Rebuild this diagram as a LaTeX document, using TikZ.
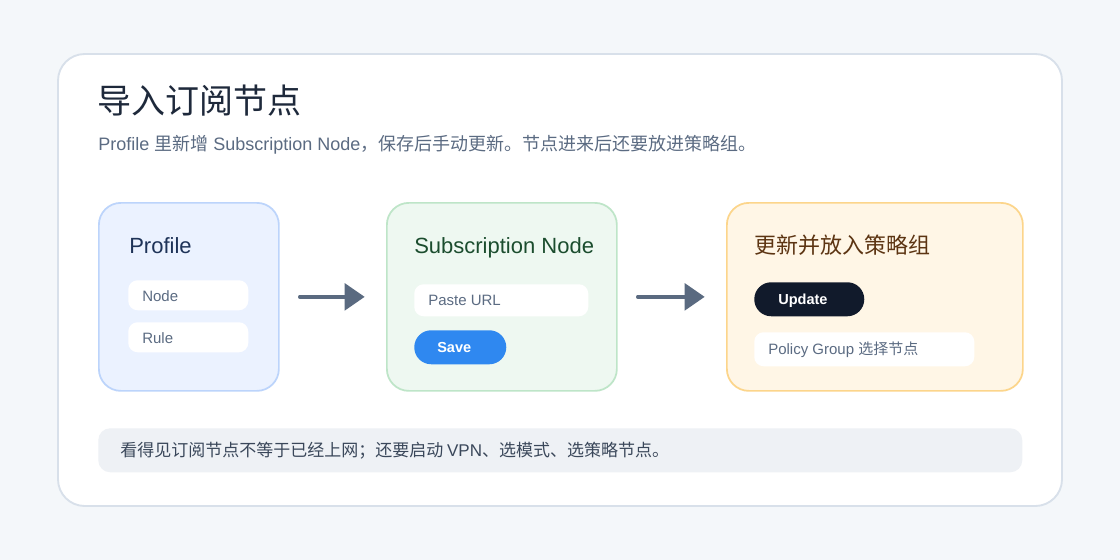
\documentclass[tikz,border=0pt]{standalone}
\usepackage{fontspec}
\setmainfont{Liberation Sans}
\newfontfamily\cjk{Noto Sans CJK SC}
\usetikzlibrary{arrows.meta,positioning}
\definecolor{pagebg}{HTML}{F4F7FA}
\definecolor{frame}{HTML}{D8E0EA}
\definecolor{headc}{HTML}{1E293B}
\definecolor{subc}{HTML}{5B6B82}
\definecolor{arrc}{HTML}{5A6A80}
\definecolor{bluef}{HTML}{EBF2FF}
\definecolor{blued}{HTML}{BCD4FB}
\definecolor{bluet}{HTML}{1E3358}
\definecolor{greenf}{HTML}{EEF8F1}
\definecolor{greend}{HTML}{BEE5C8}
\definecolor{greent}{HTML}{1B4D2E}
\definecolor{amberf}{HTML}{FFF6E6}
\definecolor{amberd}{HTML}{FCD58B}
\definecolor{ambert}{HTML}{5C3412}
\definecolor{savec}{HTML}{2F88F0}
\definecolor{darkc}{HTML}{111A2B}
\definecolor{notef}{HTML}{EEF1F5}
\definecolor{notet}{HTML}{3A475A}
\tikzset{
  ar/.style={-{Triangle[length=15pt,width=20pt]},line width=2.6pt,line cap=round,arrc,shorten <=15pt,shorten >=16pt},
  card/.style={draw,line width=1.3pt,rounded corners=16.5pt,anchor=north west,minimum height=141pt,inner sep=0pt},
  pill/.style={fill=white,rounded corners=7pt,anchor=north west,inner sep=0pt},
  btn/.style={rounded corners=12.7pt,anchor=north west,minimum height=25.5pt,inner sep=0pt},
  lbl/.style={anchor=base west,inner sep=0pt,font=\fontsize{11.25}{13}\selectfont,subc},
  btxt/.style={anchor=base west,inner sep=0pt,font=\fontsize{10.9}{13}\selectfont\bfseries,white},
  hd/.style={anchor=base west,inner sep=0pt,font=\fontsize{16.5}{20}\selectfont}
}
\begin{document}
\begin{tikzpicture}[x=0.75pt,y=-0.75pt]
\useasboundingbox (0,0) rectangle (1120,560);
\fill[pagebg] (0,0) rectangle (1120,560);
\draw[frame,line width=1.4pt,fill=white,rounded corners=20pt] (58,54) rectangle (1062,506);
% heading
\node[anchor=base west,inner sep=0pt,font=\cjk\fontsize{25.5}{30}\selectfont,headc] (title) at (97,113.5) {导入订阅节点};
\node[anchor=base west,inner sep=0pt,font=\fontsize{13.5}{16}\selectfont,subc] (sub) at (98,150)
  {Profile {\cjk 里新增} Subscription Node{\cjk ，保存后手动更新。节点进来后还要放进策略组。}};
% three steps
\node[card,draw=blued,fill=bluef,minimum width=135pt] (prof) at (98,202) {};
\node[hd,bluet] (profh) at (129,253) {Profile};
\foreach \yy/\lab in {280/Node,322/Rule}{
  \node[pill,minimum width=90pt,minimum height=22.5pt] (p\lab) at (128,\yy) {};
  \node[lbl] (t\lab) at (142,\yy+21.5) {\lab};
}
\node[card,draw=greend,fill=greenf,minimum width=172.5pt] (subn) at (386,202) {};
\node[hd,greent] (subh) at (414,253) {Subscription Node};
\node[pill,minimum width=130.5pt,minimum height=24pt] (url) at (414,284) {};
\node[lbl] (urlt) at (428,305.5) {Paste URL};
\node[btn,fill=savec,minimum width=69pt] (save) at (414,330) {};
\node[btxt] (savet) at (437,352.3) {Save};
\node[card,draw=amberd,fill=amberf,minimum width=222pt] (upd) at (726,202) {};
\node[hd,ambert,font=\cjk\fontsize{16.5}{20}\selectfont] (updh) at (754,253.5) {更新并放入策略组};
\node[btn,fill=darkc,minimum width=82.5pt] (updb) at (754,282) {};
\node[btxt] (updt) at (778,304.3) {Update};
\node[pill,minimum width=165pt,minimum height=25.5pt] (pol) at (754,332) {};
\node[lbl] (polt) at (768,354.5) {Policy Group {\cjk 选择节点}};
\draw[ar] (prof.east) -- (subn.west);
\draw[ar] (subn.east) -- (upd.west);
% note
\node[fill=notef,rounded corners=9pt,anchor=north west,minimum width=693pt,minimum height=33pt,inner sep=0pt] (note) at (98,428) {};
\node[anchor=base west,inner sep=0pt,font=\cjk\fontsize{12.75}{15}\selectfont,notet] (notet) at (120,456.5)
  {看得见订阅节点不等于已经上网；还要启动 {\rmfamily VPN}、选模式、选策略节点。};
\end{tikzpicture}
\end{document}
